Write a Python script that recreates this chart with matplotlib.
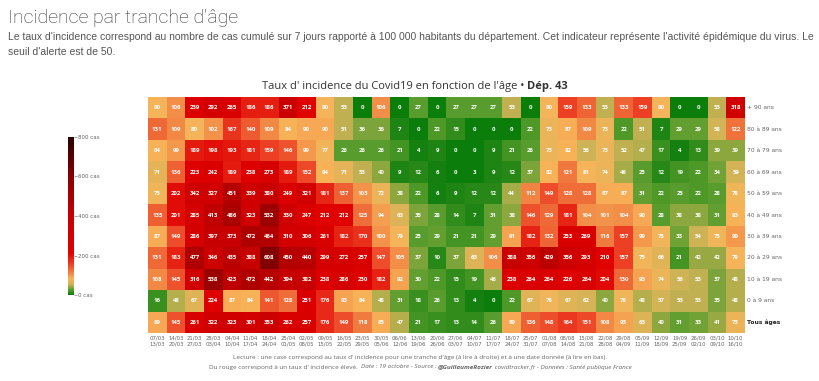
import numpy as np
import matplotlib
matplotlib.use("Agg")
import matplotlib.pyplot as plt
from matplotlib.colors import LinearSegmentedColormap, Normalize

starts = ["07/03", "14/03", "21/03", "28/03", "04/04", "11/04", "18/04", "25/04",
          "02/05", "09/05", "16/05", "23/05", "30/05", "06/06", "13/06", "20/06",
          "27/06", "04/07", "11/07", "18/07", "25/07", "01/08", "08/08", "15/08",
          "22/08", "29/08", "05/09", "12/09", "19/09", "26/09", "03/10", "10/10"]
ends = ["13/03", "20/03", "27/03", "03/04", "10/04", "17/04", "24/04", "01/05",
        "08/05", "15/05", "22/05", "29/05", "05/06", "12/06", "19/06", "26/06",
        "03/07", "10/07", "17/07", "24/07", "31/07", "07/08", "14/08", "21/08",
        "28/08", "04/09", "11/09", "18/09", "25/09", "02/10", "09/10", "16/10"]
ages = ["+ 90 ans", "80 à 89 ans", "70 à 79 ans", "60 à 69 ans", "50 à 59 ans",
        "40 à 49 ans", "30 à 39 ans", "20 à 29 ans", "10 à 19 ans", "0 à 9 ans",
        "Tous âges"]

age_90 = [80, 106, 239, 292, 265, 186, 186, 371, 212, 80, 53, 0, 106, 0, 27, 0,
          27, 27, 27, 53, 0, 80, 159, 133, 53, 133, 159, 80, 0, 0, 53, 318]
age_80 = [131, 109, 80, 102, 167, 140, 109, 84, 90, 90, 51, 36, 36, 7, 0, 22,
          15, 0, 0, 0, 22, 73, 87, 109, 73, 22, 51, 7, 29, 29, 58, 122]
age_70 = [84, 99, 189, 198, 193, 181, 159, 146, 99, 77, 26, 26, 26, 21, 4, 9,
          0, 0, 9, 21, 26, 73, 82, 56, 73, 52, 47, 17, 4, 13, 39, 39]
age_60 = [71, 136, 223, 242, 189, 238, 273, 189, 152, 84, 71, 53, 40, 9, 12, 6,
          0, 3, 9, 12, 37, 82, 121, 81, 74, 46, 25, 12, 19, 22, 34, 59]
age_50 = [75, 202, 342, 327, 451, 339, 380, 249, 321, 181, 137, 103, 72, 38, 22, 6,
          9, 12, 12, 44, 112, 149, 128, 128, 87, 87, 31, 22, 25, 22, 28, 78]
age_40 = [135, 201, 285, 413, 486, 323, 532, 330, 247, 212, 212, 125, 94, 63, 35, 28,
          14, 7, 31, 38, 146, 129, 181, 104, 101, 104, 90, 28, 38, 38, 31, 83]
age_30 = [87, 149, 286, 397, 373, 472, 464, 310, 306, 261, 182, 170, 100, 79, 25, 29,
          21, 21, 29, 91, 182, 132, 253, 269, 116, 157, 99, 75, 33, 54, 75, 99]
age_20 = [131, 183, 477, 346, 435, 388, 608, 450, 440, 299, 272, 257, 147, 105, 37, 10,
          37, 63, 106, 388, 356, 429, 356, 293, 210, 157, 75, 66, 21, 42, 42, 79]
age_10 = [108, 145, 316, 538, 423, 472, 442, 394, 382, 238, 286, 230, 182, 92, 30, 22,
          15, 19, 46, 238, 264, 264, 226, 264, 204, 130, 93, 74, 56, 53, 37, 48]
age_0 = [16, 48, 67, 224, 87, 84, 141, 128, 251, 176, 93, 84, 48, 31, 18, 26,
         13, 4, 0, 22, 67, 76, 67, 62, 40, 76, 48, 57, 53, 53, 35, 48]
all_ages = [89, 145, 261, 322, 323, 301, 353, 262, 257, 176, 149, 118, 85, 47, 21, 17,
            13, 14, 26, 89, 136, 148, 164, 151, 108, 93, 63, 40, 31, 33, 41, 73]

grid = np.array([age_90, age_80, age_70, age_60, age_50, age_40, age_30,
                 age_20, age_10, age_0, all_ages])

# colour scale 0 -> 800 cas: green, mustard, orange, red, almost black
cmap = LinearSegmentedColormap.from_list("incid", [
    (0.0, "#0b7d0b"), (0.034, "#5e9f2f"), (0.066, "#cdb356"),
    (0.10, "#f8b55a"), (0.133, "#f28a46"), (0.20, "#ec3b22"),
    (0.265, "#e00000"), (0.5, "#c60000"), (0.75, "#880000"),
    (1.0, "#2a0000")])
norm = Normalize(0, 800)

W, H = 820, 381
fig = plt.figure(figsize=(W / 100, H / 100), dpi=100)
fig.patch.set_facecolor("white")


def fx(px):
    return px / W


def fy(py):
    return 1 - py / H


renderer = fig.canvas.get_renderer()

# page heading and paragraph
fig.text(fx(8), fy(18), "Incidence par tranche d'âge", fontsize=14, color="#333333",
         family=["Roboto", "DejaVu Sans"], fontweight="light", va="center")
para1 = fig.text(fx(8), fy(37), "Le taux d'incidence correspond au nombre de cas cumulé sur 7 jours "
                 "rapporté à 100 000 habitants du département. Cet indicateur représente l'activité "
                 "épidémique du virus. Le", fontsize=7.2, color="#555555",
                 family=["Liberation Sans", "DejaVu Sans"], va="center")
# fit the first line to the page width
size = 7.2 * 802 / para1.get_window_extent(renderer).width
para1.set_fontsize(size)
fig.text(fx(8), fy(52), "seuil d'alerte est de 50.", fontsize=size, color="#555555",
         family=["Liberation Sans", "DejaVu Sans"], va="center")


def draw_runs(cx, cy, runs, size, color):
    # runs of (text, weight, style), centred as one line
    items = []
    for txt, weight, style in runs:
        t = fig.text(0, fy(cy), txt, fontsize=size, color=color, fontweight=weight,
                     fontstyle=style, family=["Open Sans", "DejaVu Sans"], va="center")
        items.append((t, t.get_window_extent(renderer).width))
    total = sum(w for _, w in items)
    x = cx - total / 2
    for t, w in items:
        t.set_x(fx(x))
        x += w


draw_runs(415, 86, [("Taux d' incidence du Covid19 en fonction de l'âge • ", "normal", "normal"),
                    ("Dép. 43", "bold", "normal")], 8, "#333333")

# heatmap
ax = fig.add_axes([fx(148), fy(333), fx(745) - fx(148), (333 - 97) / H])
nrow, ncol = grid.shape
ax.imshow(grid, cmap=cmap, norm=norm, aspect="auto", interpolation="nearest")
for i in range(nrow):
    for j in range(ncol):
        ax.text(j, i, str(grid[i, j]), ha="center", va="center", color="white",
                fontsize=4.3, fontweight="bold", family=["Open Sans", "DejaVu Sans"])
ax.set_xticks(range(ncol))
ax.set_xticklabels([s + "\n" + e for s, e in zip(starts, ends)], fontsize=3.9,
                   color="#666666", linespacing=1.3)
ax.set_yticks([])
ax.tick_params(axis="x", length=0, pad=2)
for s in ax.spines.values():
    s.set_visible(False)
for i, lab in enumerate(ages):
    bold = lab == "Tous âges"
    ax.text(ncol - 0.4, i, lab, ha="left", va="center", fontsize=4.3,
            color="#222222" if bold else "#666666", fontweight="bold" if bold else "normal")

# colour bar
cax = fig.add_axes([fx(68), fy(295), 6 / W, (295 - 137) / H])
sm = plt.cm.ScalarMappable(norm=norm, cmap=cmap)
cb = fig.colorbar(sm, cax=cax)
cb.outline.set_visible(False)
cb.set_ticks([0, 200, 400, 600, 800])
cb.set_ticklabels(["0 cas", "200 cas", "400 cas", "600 cas", "800 cas"])
cax.tick_params(labelsize=4, colors="#666666", length=2, width=0.4, pad=1)

# footer
draw_runs(420, 357, [("Lecture : une case correspond au taux d' incidence pour une tranche d'âge "
                      "(à lire à droite) et à une date donnée (à lire en bas).", "normal", "normal")],
          4.6, "#666666")
draw_runs(420, 367, [("Du rouge correspond à un taux d' incidence élevé.  ", "normal", "normal"),
                     ("Date : 19 octobre - Source : ", "normal", "italic"),
                     ("@GuillaumeRozier", "bold", "italic"),
                     (" covidtracker.fr - Données : Santé publique France", "normal", "italic")],
          4.6, "#666666")

fig.savefig("out.png", dpi=100, facecolor="white")
